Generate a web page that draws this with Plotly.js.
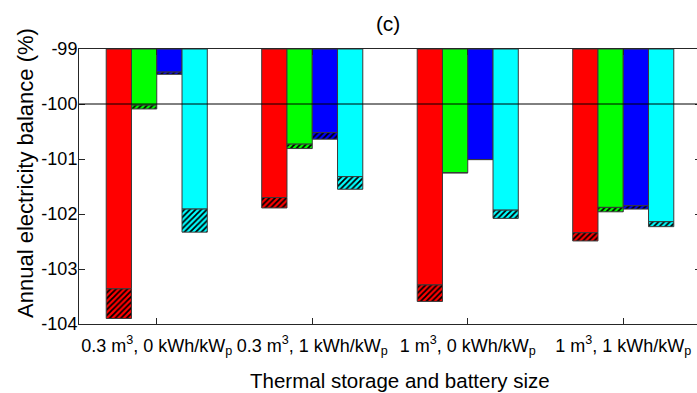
<!DOCTYPE html>
<html>
<head>
<meta charset="utf-8">
<script src="https://cdn.plot.ly/plotly-3.0.1.min.js"></script>
<style>
  html, body { margin: 0; padding: 0; background: #fff; overflow: hidden; }
  #chart { width: 712px; height: 393px; }
</style>
</head>
<body>
<div id="chart"></div>
<script>
// Categories (thermal storage and battery size)
const categories = [
  "0.3 m<sup>3</sup>, 0 kWh/kW<sub>p</sub>",
  "0.3 m<sup>3</sup>, 1 kWh/kW<sub>p</sub>",
  "1 m<sup>3</sup>, 0 kWh/kW<sub>p</sub>",
  "1 m<sup>3</sup>, 1 kWh/kW<sub>p</sub>"
];
const baseLevel = -99;

// Bar end of solid part (annual electricity balance, %)
const redSolid   = [-103.36, -101.70, -103.29, -102.34];
const greenSolid = [-100.02, -100.73, -101.25, -101.88];
const blueSolid  = [-99.42,  -100.52, -101.01, -101.85];
const cyanSolid  = [-101.91, -101.32, -101.93, -102.14];

// Bar end including hatched part
const redTotal   = [-103.90, -101.89, -103.59, -102.49];
const greenTotal = [-100.09, -100.81, -101.25, -101.96];
const blueTotal  = [-99.46,  -100.64, -101.01, -101.91];
const cyanTotal  = [-102.33, -101.55, -102.08, -102.23];

const yTickVals = [-104, -103, -102, -101, -100, -99];
const yTickText = ["-104", "-103", "-102", "-101", "-100", "-99"];

const seriesDefs = [
  {name: "red",   color: "#FF0000", solid: redSolid,   total: redTotal},
  {name: "green", color: "#00FF00", solid: greenSolid, total: greenTotal},
  {name: "blue",  color: "#0000FF", solid: blueSolid,  total: blueTotal},
  {name: "cyan",  color: "#00FFFF", solid: cyanSolid,  total: cyanTotal}
];

const edge = {color: "#3a3a3a", width: 1};
const traces = [];
seriesDefs.forEach((s, i) => {
  traces.push({
    type: "bar", x: categories,
    y: s.solid.map(v => v - baseLevel),
    base: categories.map(() => baseLevel),
    offsetgroup: String(i),
    marker: {color: s.color, line: edge},
    name: s.name, showlegend: false, hoverinfo: "skip"
  });
  traces.push({
    type: "bar", x: categories,
    y: s.total.map((v, k) => v - s.solid[k]),
    base: s.solid,
    offsetgroup: String(i),
    marker: {color: s.color, line: edge,
      pattern: {shape: "/", fgcolor: "#000000", bgcolor: s.color, size: 4, solidity: 0.45, fillmode: "replace"}},
    name: s.name + " hatched", showlegend: false, hoverinfo: "skip"
  });
});

const axisColor = "#262626";
const layout = {
  width: 712, height: 393,
  margin: {l: 79, r: 11, t: 49, b: 69, pad: 0},
  paper_bgcolor: "#ffffff", plot_bgcolor: "#ffffff",
  font: {family: "Liberation Sans, Arial, sans-serif", size: 18, color: axisColor},
  title: {text: "(c)", x: 0.497, xref: "paper", xanchor: "center", y: 0.94, yanchor: "middle",
          font: {size: 21, color: "#000000"}},
  barmode: "group", bargap: 0.35, bargroupgap: 0,
  showlegend: false,
  xaxis: {
    type: "category", range: [-0.5, 3.5],
    showline: true, linecolor: axisColor, linewidth: 1, mirror: "ticks",
    ticks: "inside", ticklen: 6, tickcolor: axisColor,
    showgrid: false, zeroline: false,
    tickfont: {size: 18, color: "#000000"},
    ticklabelstandoff: 5
  },
  yaxis: {
    range: [-104, -99],
    tickvals: yTickVals, ticktext: yTickText,
    showline: true, linecolor: axisColor, linewidth: 1, mirror: "ticks",
    ticks: "inside", ticklen: 6, tickcolor: axisColor,
    showgrid: false, zeroline: false,
    tickfont: {size: 18, color: "#000000"},
    ticklabelstandoff: -3
  },
  annotations: [
    {text: "Thermal storage and battery size", xref: "paper", yref: "paper",
     x: 0.516, y: -0.205, xanchor: "center", yanchor: "middle", showarrow: false,
     font: {size: 20.5, color: "#000000"}},
    {text: "Annual electricity balance (%)", xref: "paper", yref: "paper",
     x: -0.087, y: 0.549, xanchor: "center", yanchor: "middle", showarrow: false,
     textangle: -90, font: {size: 22, color: "#000000"}}
  ],
  shapes: [{type: "line", xref: "paper", x0: 0, x1: 1, yref: "y", y0: -100, y1: -100,
            line: {color: "#000000", width: 1}, layer: "above"}]
};

Plotly.newPlot("chart", traces, layout, {staticPlot: true, displayModeBar: false});
</script>
</body>
</html>
